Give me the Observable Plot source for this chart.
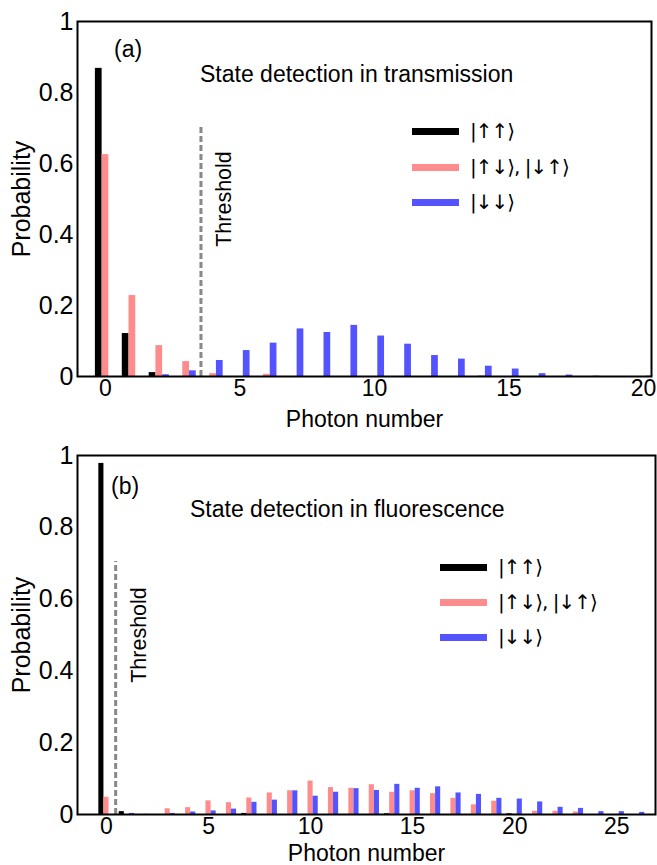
<!DOCTYPE html>
<html><head><meta charset="utf-8">
<script src="https://cdn.jsdelivr.net/npm/d3@7"></script>
<script src="https://cdn.jsdelivr.net/npm/@observablehq/plot@0.6"></script>
<style>
body{margin:0;background:#fff;font-family:"Liberation Sans",Arial,sans-serif;}
#wrap{position:relative;width:657px;height:865px;overflow:hidden;}
.panel{position:absolute;left:0;width:657px;}
.ann{position:absolute;font-size:23px;color:#000;white-space:nowrap;line-height:1;}
.leg{position:absolute;display:flex;align-items:center;font-size:20px;white-space:nowrap;line-height:1;font-family:"DejaVu Sans","Liberation Sans",sans-serif;letter-spacing:-1px;}
.sw{width:47px;height:7px;margin-right:11px;}
</style></head><body>
<div id="wrap"></div>
<script>
// ---------- data: panel (a) transmission ----------
const photonA = [0,1,2,3,4,5,6,7,8,9,10,11,12,13,14,15,16,17,18,19,20];
const upupA   = [0.868,0.121,0.011,0,0,0,0,0,0,0,0,0,0,0,0,0,0,0,0,0,0];
const mixedA  = [0.625,0.228,0.087,0.042,0.008,0,0.006,0,0,0,0,0,0,0,0.002,0,0,0,0,0,0];
const downA   = [0,0,0.005,0.016,0.045,0.073,0.094,0.134,0.124,0.144,0.114,0.091,0.059,0.049,0.029,0.021,0.008,0.004,0.001,0,0.001];
const thresholdA = 3.55;
// ---------- data: panel (b) fluorescence ----------
const photonB = [0,1,2,3,4,5,6,7,8,9,10,11,12,13,14,15,16,17,18,19,20,21,22,23,24,25,26];
const upupB   = [0.978,0.008,0,0,0,0,0,0.003,0,0,0,0,0,0,0.002,0,0,0,0,0,0.002,0,0,0,0,0,0];
const mixedB  = [0.048,0,0.001,0.016,0.019,0.038,0.033,0.046,0.060,0.066,0.093,0.075,0.073,0.083,0.062,0.066,0.058,0.045,0.027,0.037,0.001,0.009,0.009,0.007,0,0,0];
const downB   = [0,0.003,0,0.003,0.007,0.010,0.015,0.034,0.040,0.066,0.051,0.062,0.072,0.067,0.084,0.073,0.077,0.060,0.056,0.045,0.043,0.035,0.020,0.017,0.008,0.008,0.006];
const thresholdB = 0.45;
// ---------- ticks / labels ----------
const yTicks = [0,0.2,0.4,0.6,0.8,1];
const xTicksA = [0,5,10,15,20];
const xTicksB = [0,5,10,15,20,25];
const states = ["|↑↑⟩", "|↑↓⟩, |↓↑⟩", "|↓↓⟩"];
const stateColors = ["#000000", "#ff8c8c", "#5353ff"];
const titles = ["State detection in transmission", "State detection in fluorescence"];
const panelTags = ["(a)", "(b)"];

const FONT = "'Liberation Sans', Arial, Helvetica, sans-serif";

function rowsOf(photon, series) {
  const rows = [];
  series.forEach((vals, s) => photon.forEach((n, i) => rows.push({n, p: vals[i], s})));
  return rows;
}

function makePanel({photon, series, xDomain, xTicks, threshold, height, marginTop, marginBottom, marginRight, xLabelOffset}) {
  const w = 0.25;
  const offs = [-1, 0, 1];
  const rows = rowsOf(photon, series);
  return Plot.plot({
    width: 657, height, marginLeft: 77, marginRight, marginTop, marginBottom,
    style: {fontFamily: FONT, fontSize: "23px", color: "#000", background: "#fff", overflow: "visible"},
    x: {domain: xDomain, ticks: xTicks, tickFormat: d => String(d), label: null, tickSize: 0, tickPadding: 3},
    y: {domain: [0, 1], ticks: yTicks, tickFormat: d => String(d), label: null, tickSize: 0, tickPadding: 4},
    marks: [
      Plot.rectY(rows, {
        x1: d => d.n + offs[d.s] * w - w / 2,
        x2: d => d.n + offs[d.s] * w + w / 2,
        y1: 0, y2: "p", fill: d => stateColors[d.s]
      }),
      Plot.ruleX([threshold], {y1: 0, y2: 0.705, stroke: "#888888", strokeWidth: 3, strokeDasharray: "6,3"}),
      Plot.text([threshold], {x: d => d, y: 0.5, text: () => "Threshold", rotate: -90, dx: 23, fontSize: 21.5}),
      Plot.axisX({ticks: xTicks, tickFormat: d => String(d), tickSize: 0, tickPadding: 3, label: "Photon number", labelAnchor: "center", labelArrow: "none", labelOffset: xLabelOffset}),
      Plot.axisY({ticks: yTicks, tickFormat: d => String(d), tickSize: 0, tickPadding: 4, label: "Probability", labelAnchor: "center", labelArrow: "none", labelOffset: 65, fontSize: 25}),
      Plot.frame({stroke: "#000", strokeWidth: 2})
    ]
  });
}

const wrap = document.getElementById("wrap");

const panels = [
  {top: 0, plot: makePanel({photon: photonA, series: [upupA, mixedA, downA], xDomain: [-1.04, 20.3], xTicks: xTicksA, threshold: thresholdA, height: 432, marginTop: 21, marginBottom: 56, marginRight: 6, xLabelOffset: 50})},
  {top: 432, plot: makePanel({photon: photonB, series: [upupB, mixedB, downB], xDomain: [-1.42, 26.9], xTicks: xTicksB, threshold: thresholdB, height: 433, marginTop: 23, marginBottom: 51, marginRight: 2, xLabelOffset: 46})}
];
panels.forEach(({top, plot}) => {
  const d = document.createElement("div");
  d.className = "panel";
  d.style.top = top + "px";
  d.appendChild(plot);
  wrap.appendChild(d);
});

function addText(txt, left, top, size) {
  const el = document.createElement("div");
  el.className = "ann";
  el.textContent = txt;
  el.style.left = left + "px";
  el.style.top = top + "px";
  if (size) el.style.fontSize = size + "px";
  wrap.appendChild(el);
}
addText(panelTags[0], 114, 38, 23);
addText(titles[0], 200, 63, 23);
addText(panelTags[1], 111, 475, 23);
addText(titles[1], 190, 498, 23);

function addLegend(left, tops) {
  states.forEach((s, i) => {
    const el = document.createElement("div");
    el.className = "leg";
    el.style.left = left + "px";
    el.style.top = (tops[i] - 12) + "px";
    el.style.height = "24px";
    const sw = document.createElement("span");
    sw.className = "sw";
    sw.style.background = stateColors[i];
    const t = document.createElement("span");
    t.textContent = s;
    el.appendChild(sw); el.appendChild(t);
    wrap.appendChild(el);
  });
}
addLegend(412, [131, 167, 202]);
addLegend(440, [567, 602, 637]);
</script>
</body></html>
